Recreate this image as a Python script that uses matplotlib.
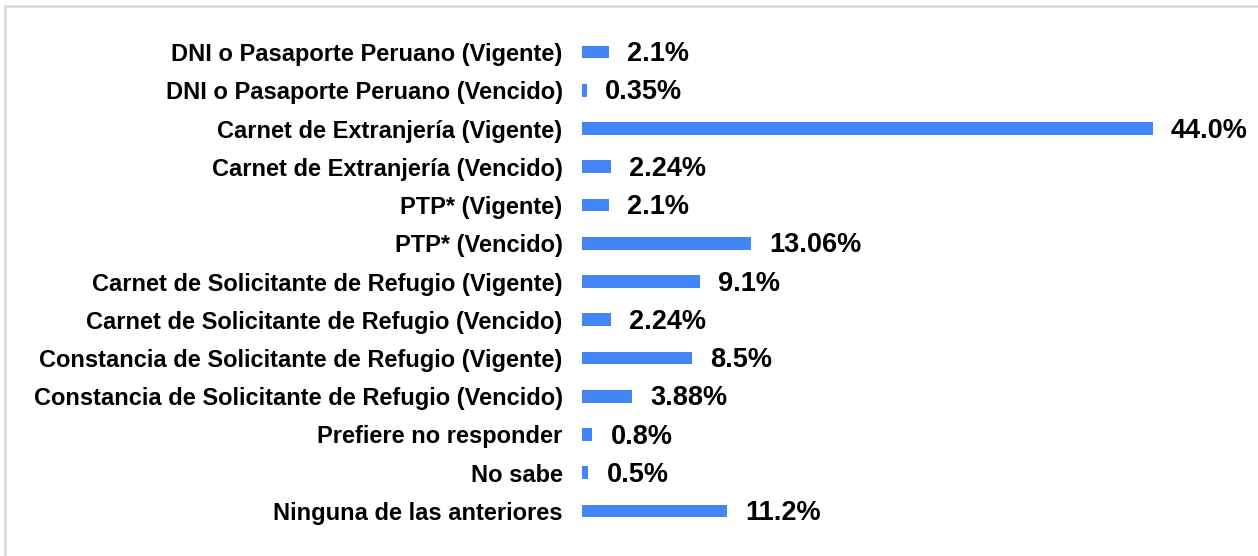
import matplotlib.pyplot as plt
from matplotlib.lines import Line2D

categories = [
    "DNI o Pasaporte Peruano (Vigente)",
    "DNI o Pasaporte Peruano (Vencido)",
    "Carnet de Extranjería (Vigente)",
    "Carnet de Extranjería (Vencido)",
    "PTP* (Vigente)",
    "PTP* (Vencido)",
    "Carnet de Solicitante de Refugio (Vigente)",
    "Carnet de Solicitante de Refugio (Vencido)",
    "Constancia de Solicitante de Refugio (Vigente)",
    "Constancia de Solicitante de Refugio (Vencido)",
    "Prefiere no responder",
    "No sabe",
    "Ninguna de las anteriores",
]
values = [2.1, 0.35, 44.0, 2.24, 2.1, 13.06, 9.1, 2.24, 8.5, 3.88, 0.8, 0.5, 11.2]
value_labels = ["2.1%", "0.35%", "44.0%", "2.24%", "2.1%", "13.06%", "9.1%",
                "2.24%", "8.5%", "3.88%", "0.8%", "0.5%", "11.2%"]

plt.rcParams["font.family"] = ["Liberation Sans", "DejaVu Sans"]

W, H = 1258, 556
fig = plt.figure(figsize=(W / 100, H / 100), dpi=100)
x0, x1 = 582, 1153          # bar start and end of the largest bar (pixels)
top, bottom = 33, 530
ax = fig.add_axes([x0 / W, 1 - bottom / H, (x1 - x0) / W, (bottom - top) / H])

ypos = list(range(len(categories)))
ax.barh(ypos, values, height=0.33, color="#4285F4")
ax.set_xlim(0, max(values))
ax.set_ylim(len(categories) - 0.5, -0.5)

ax.set_yticks(ypos)
ax.set_yticklabels(categories, fontsize=17, fontweight="bold")
ax.tick_params(axis="y", length=0, pad=14)
ax.set_xticks([])
for s in ax.spines.values():
    s.set_visible(False)

for y, v, lab in zip(ypos, values, value_labels):
    ax.annotate(lab, (v, y), xytext=(13, -1.5), textcoords="offset points",
                va="center", ha="left", fontsize=19.5, fontweight="bold",
                annotation_clip=False)

# light frame along the top and left edges
fig.add_artist(Line2D([5 / W, 1], [1 - 6 / H, 1 - 6 / H], color="#dcdcdc", lw=2,
                      transform=fig.transFigure))
fig.add_artist(Line2D([5 / W, 5 / W], [0, 1 - 6 / H], color="#dcdcdc", lw=2,
                      transform=fig.transFigure))

fig.savefig("out.png", dpi=100)
